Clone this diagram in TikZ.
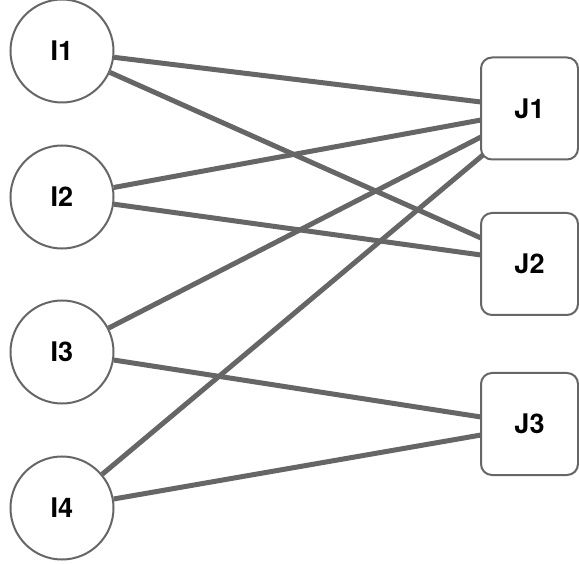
\documentclass[tikz,border=0pt]{standalone}
\usepackage{fontspec}
\setmainfont{TeX Gyre Heros}
\definecolor{edgegray}{HTML}{666666}
\begin{document}
\begin{tikzpicture}[x=1pt,y=-1pt,
  inode/.style={circle,draw=edgegray,line width=2pt,fill=white,minimum size=103pt,inner sep=0pt,font=\fontsize{27}{31}\selectfont\bfseries},
  jnode/.style={rectangle,rounded corners=11pt,draw=edgegray,line width=2pt,fill=white,minimum width=97pt,minimum height=102pt,inner sep=0pt,font=\fontsize{27}{31}\selectfont\bfseries},
  link/.style={draw=edgegray,line width=5pt}]
\useasboundingbox (0,0) rectangle (579,564);
\node[inode] (I1) at (62,51) {I1};
\node[inode] (I2) at (62,197) {I2};
\node[inode] (I3) at (62,352) {I3};
\node[inode] (I4) at (62,508) {I4};
\node[jnode] (J1) at (529.5,108.5) {J1};
\node[jnode] (J2) at (529.5,264) {J2};
\node[jnode] (J3) at (529.5,424) {J3};
% ports on the left sides of the boxes
\coordinate (p11) at (481,102);
\coordinate (p12) at (481,120);
\coordinate (p13) at (481,137);
\coordinate (p14) at (483,155);
\coordinate (p21) at (481,238);
\coordinate (p22) at (481,255);
\coordinate (p31) at (481,417);
\coordinate (p32) at (481,435);
\draw[link] (I1) -- (p11);
\draw[link] (I1) -- (p21);
\draw[link] (I2) -- (p12);
\draw[link] (I2) -- (p22);
\draw[link] (I3) -- (p13);
\draw[link] (I3) -- (p31);
\draw[link] (I4) -- (p14);
\draw[link] (I4) -- (p32);
\end{tikzpicture}
\end{document}
